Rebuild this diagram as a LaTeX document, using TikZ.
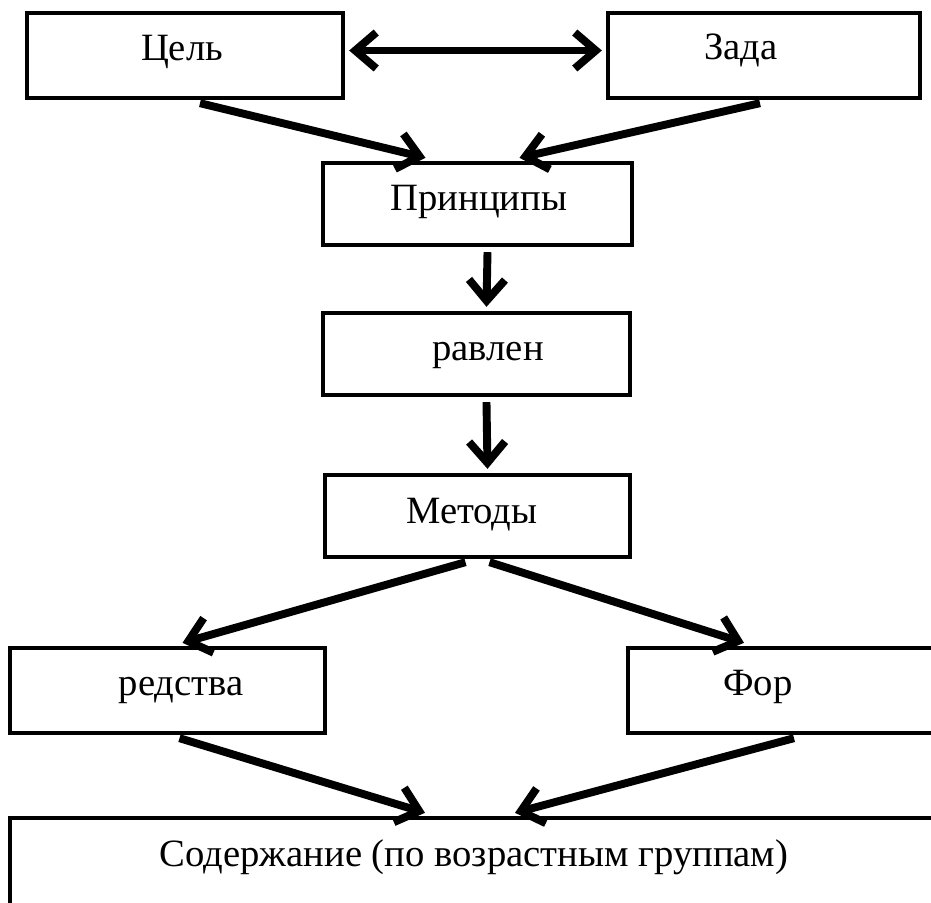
\documentclass[tikz,border=0pt]{standalone}
\usepackage{fontspec}
\setmainfont{Liberation Serif}
\usetikzlibrary{arrows.meta,calc}

\begin{document}
\begin{tikzpicture}[x=0.02cm,y=-0.02cm,
  box/.style={draw=black, line width=2.5pt, rectangle, inner sep=0pt},
  txt/.style={anchor=base, inner sep=0pt, font=\fontsize{22}{26}\selectfont},
  arr/.style={line width=4.5pt, -{Straight Barb[length=0.42cm,width=0.72cm]}},
  darr/.style={line width=4.5pt, {Straight Barb[length=0.42cm,width=0.72cm]}-{Straight Barb[length=0.42cm,width=0.72cm]}}] %%scheme
\useasboundingbox (0,0) rectangle (931,903);
\clip (0,0) rectangle (931,903);
\fill[white] (0,0) rectangle (931,903);
% boxes
\node[box, minimum width=6.32cm, minimum height=1.7cm] (cel) at (185,55.5) {};
\node[box, minimum width=6.24cm, minimum height=1.7cm] (zad) at (764,55.5) {};
\node[box, minimum width=6.18cm, minimum height=1.64cm] (princ) at (477.5,204) {};
\node[box, minimum width=6.14cm, minimum height=1.64cm] (napr) at (476.5,354) {};
\node[box, minimum width=6.1cm, minimum height=1.64cm] (met) at (477.5,516) {};
\node[box, minimum width=6.3cm, minimum height=1.7cm] (sred) at (167.5,690.5) {};
\node[box, minimum width=6.64cm, minimum height=1.7cm] (form) at (794,690.5) {};
\node[box, minimum width=18.8cm, minimum height=2.04cm] (sod) at (480,869) {};
% texts
\node[txt] (celt) at (182,60) {Цель};
\node[txt] (zadt) at (741,59) {Зада};
\node[txt] (princt) at (479,210) {Принципы};
\node[txt] (naprt) at (488,360) {равлен};
\node[txt] (mett) at (472,523) {Методы};
\node[txt] (sredt) at (181,695) {редства};
\node[txt] (formt) at (758,695) {Фор};
\node[txt] (sodt) at (474,866) {Содержание (по возрастным группам)};
% arrows
\draw[darr] ($(cel.east)+(4,-5)$) -- ($(zad.west)+(-4,-5)$);
\draw[arr] ($(cel.south)+(15,3)$) -- ($(princ.north)+(-52,-3)$);
\draw[arr] ($(zad.south)+(-4,3)$) -- ($(princ.north)+(42,-3)$);
\draw[arr] ($(princ.south)+(10,5)$) -- ($(napr.north)+(10,-4)$);
\draw[arr] ($(napr.south)+(10,5)$) -- ($(met.north)+(10,-4)$);
\draw[arr] ($(met.south)+(-12,3)$) -- ($(sred.north)+(15,-3)$);
\draw[arr] ($(met.south)+(12,3)$) -- ($(form.north)+(-50,-3)$);
\draw[arr] ($(sred.south)+(12,3)$) -- ($(sod.north)+(-55,-3)$);
\draw[arr] ($(form.south)+(0,3)$) -- ($(sod.north)+(35,-3)$);
\end{tikzpicture}
\end{document}
